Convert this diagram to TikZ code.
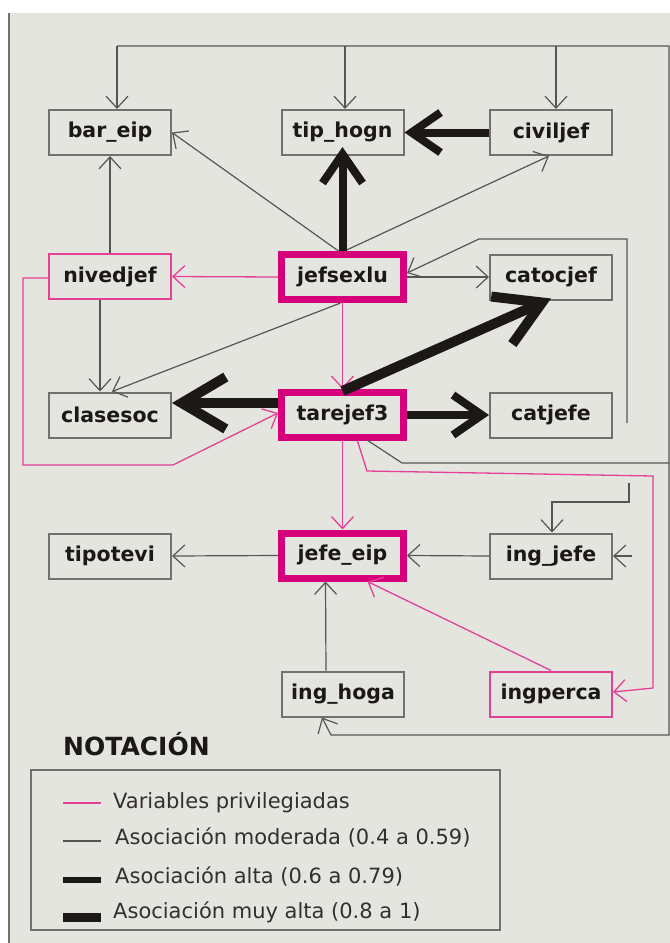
\documentclass[tikz,border=0pt]{standalone}
\usepackage{fontspec}
\setmainfont{DejaVu Sans}
\usetikzlibrary{arrows.meta,calc}
\definecolor{bg}{RGB}{229,229,224}
\definecolor{edgegray}{RGB}{85,85,85}
\definecolor{boxgray}{RGB}{112,112,112}
\definecolor{pinkl}{RGB}{228,64,150}
\definecolor{pinkk}{RGB}{214,0,122}
\definecolor{ink}{RGB}{28,24,22}
\begin{document}
\begin{tikzpicture}[x=1bp,y=-1bp,
  box/.style={draw=boxgray,line width=2bp,fill=bg,minimum width=122bp,minimum height=45bp,inner sep=0pt,
    font=\fontsize{20.5bp}{24bp}\selectfont\bfseries,text=ink},
  pbox/.style={box,draw=pinkl},
  kbox/.style={box,draw=pinkk,line width=7bp},
  line/.style={draw=edgegray,line width=1.2bp},
  conn/.style={line,-{Straight Barb[length=12bp,width=22bp]}},
  pconn/.style={draw=pinkl,line width=1.3bp,-{Straight Barb[length=12bp,width=22bp]}},
  alta/.style={draw=ink,line width=8bp,-{Straight Barb[length=29bp,width=40bp]}},
  muy/.style={draw=ink,line width=10bp,-{Straight Barb[length=44bp,width=52bp]}},
  legtext/.style={anchor=base west,inner sep=0pt,font=\fontsize{21bp}{24bp}\selectfont,text=ink!90}
]
\useasboundingbox (0,0) rectangle (670,943);
\fill[white] (0,0) rectangle (670,943);
\fill[bg] (9,13) rectangle (670,943);
\draw[boxgray,line width=2bp] (9,13) -- (9,943);

% nodes
\node[box]  (bar_eip)  at (110,132.5) {bar\_eip};
\node[box]  (tip_hogn) at (342.5,132.5) {tip\_hogn};
\node[box]  (civiljef) at (551,132.5) {civiljef};
\node[pbox] (nivedjef) at (110,276.5) {nivedjef};
\node[kbox] (jefsexlu) at (342.5,277) {jefsexlu};
\node[box]  (catocjef) at (551,277) {catocjef};
\node[box]  (clasesoc) at (110,415) {clasesoc};
\node[kbox] (tarejef3) at (342.5,415) {tarejef3};
\node[box]  (catjefe)  at (551,415) {catjefe};
\node[box]  (tipotevi) at (110,556) {tipotevi};
\node[kbox] (jefe_eip) at (342.5,555.5) {jefe\_eip};
\node[box]  (ing_jefe) at (551,556) {ing\_jefe};
\node[box]  (ing_hoga) at (343,694) {ing\_hoga};
\node[pbox] (ingperca) at (551,694) {ingperca};

% top bus from tarejef3
\coordinate (busA) at (367,440);
\coordinate (busB) at (402,463);
\coordinate (busC) at (669,463);
\coordinate (busD) at (669,46);
\coordinate (busE) at (117,46);
\coordinate (busT) at (345,46);
\coordinate (busV) at (556,46);
\draw[line] (busA) -- (busB) -- (busC) -- (busD) -- (busE);
\draw[conn] (busE) -- (busE |- bar_eip.north);
\draw[conn] (busT) -- (busT |- tip_hogn.north);
\draw[conn] (busV) -- (busV |- civiljef.north);
% lower bus to ing_hoga
\coordinate (busF) at (669,735);
\coordinate (busG) at (331,735);
\draw[conn] (busC) -- (busF) -- (busG) -- ($(ing_hoga.south)+(-21,0)$);

% gray connectors
\draw[conn] (nivedjef.north) -- (bar_eip.south);
\draw[conn] ($(nivedjef.south)+(-10,0)$) -- ($(clasesoc.north)+(-10,0)$);
\draw[conn] ($(jefsexlu.north)+(-4,0)$) -- (bar_eip.east);
\draw[conn] ($(jefsexlu.north)+(2,0)$) -- ($(civiljef.south)+(-2,0)$);
\draw[conn] (jefsexlu.east) -- (catocjef.west);
\coordinate (cj1) at (627,423);
\coordinate (cj2) at (627,239);
\coordinate (cj3) at (479,239);
\draw[conn] (cj1) -- (cj2) -- (cj3) -- ($(jefsexlu.east)+(0,-4)$);
\draw[conn] ($(jefsexlu.south)+(-2,0)$) -- ($(clasesoc.north)+(2,0)$);
\coordinate (ij1) at (629,483);
\coordinate (ij2) at (629,502);
\coordinate (ij3) at (552,502);
\draw[conn] (ij1) -- (ij2) -- (ij3) -- (ij3 |- ing_jefe.north);
\coordinate (ij4) at (632,556);
\draw[conn] (ij4) -- (ing_jefe.east);
\draw[conn] (ing_jefe.west) -- (jefe_eip.east);
\draw[conn] (jefe_eip.west) -- (tipotevi.east);
\draw[conn] ($(ing_hoga.north)+(-17,0)$) -- ($(jefe_eip.south)+(-17,0)$);

% pink connectors
\draw[pconn] (jefsexlu.west) -- (nivedjef.east);
\draw[pconn] (jefsexlu.south) -- (tarejef3.north);
\coordinate (nv1) at (23,278);
\coordinate (nv2) at (23,465);
\coordinate (nv3) at (173,465);
\draw[pconn] (nivedjef.west |- nv1) -- (nv1) -- (nv2) -- (nv3) -- ($(tarejef3.west)+(0,-2)$);
\draw[pconn] (tarejef3.south) -- (jefe_eip.north);
\coordinate (ip1) at (367,471);
\coordinate (ip2) at (653,476);
\coordinate (ip3) at (653,688);
\draw[pconn] ($(tarejef3.south)+(15,0)$) -- (ip1) -- (ip2) -- (ip3) -- ($(ingperca.east)+(0,-2)$);
\draw[pconn] (ingperca.north) -- ($(jefe_eip.south)+(25,0)$);

% strong associations
\draw[alta] (jefsexlu.north) -- ($(tip_hogn.south)+(0,-9)$);
\draw[alta] (civiljef.west) -- (tip_hogn.east);
\draw[alta] (tarejef3.east) -- (catjefe.west);
\draw[muy] ($(tarejef3.north)+(0,2)$) -- ($(catocjef.south)+(0,-2)$);
\draw[muy] ($(tarejef3.west)+(0,-12)$) -- ($(clasesoc.east)+(0,-12)$);

% legend
\node[anchor=base west,inner sep=0pt,font=\fontsize{25bp}{28bp}\selectfont\bfseries,text=ink] (nota) at (63,755) {NOTACIÓN};
\node[draw=boxgray,line width=2bp,anchor=north west,minimum width=469bp,minimum height=160bp,inner sep=0pt] (legend) at (30,769) {};
\draw[pinkl,line width=2bp] (63,803) -- (101,803);
\draw[edgegray,line width=1.5bp] (63,841) -- (101,841);
\draw[ink,line width=6bp] (63,880) -- (101,880);
\draw[ink,line width=9bp] (63,917) -- (101,917);
\node[legtext] (l1) at (113,808) {Variables privilegiadas};
\node[legtext] (l2) at (115,844) {Asociación moderada (0.4 a 0.59)};
\node[legtext] (l3) at (115,883) {Asociación alta (0.6 a 0.79)};
\node[legtext] (l4) at (113,918) {Asociación muy alta (0.8 a 1)};
\end{tikzpicture}
\end{document}
